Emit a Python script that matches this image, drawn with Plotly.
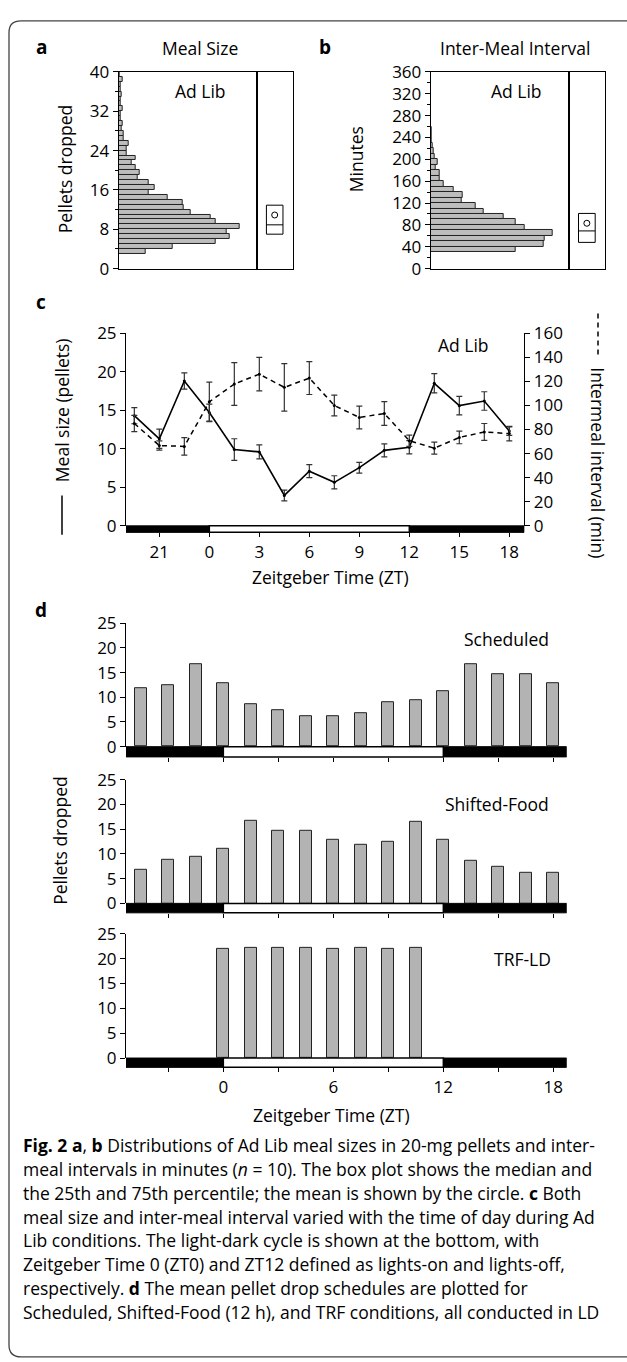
import plotly.graph_objects as go

W, H = 627, 1362
def fx(p): return p / W
def fy(p): return 1 - p / H

FONT = "Open Sans"
GRAY = "#bdbdbd"

# ---------------- data ----------------
# Panel a: meal size histogram (bin lower edges in pellets, relative counts)
meal_bins = list(range(3, 40))
meal_counts = [27, 54, 97, 111, 108, 121, 97, 92, 72, 65, 64, 49, 30, 36, 30, 19, 21, 17,
               13, 17, 8, 8, 10, 5, 5, 3, 4, 2, 2, 4, 2, 2, 3, 2, 2, 4, 1]
meal_box = dict(q1=7.0, median=8.9, q3=12.9, mean=10.9)

# Panel b: inter-meal interval histogram (bin lower edges in minutes)
imi_bins = list(range(30, 260, 10))
imi_counts = [85, 113, 114, 122, 94, 85, 73, 53, 45, 31, 32, 23, 13, 9, 9, 5, 7, 4, 3, 2, 1, 1, 1]
imi_box = dict(q1=48, median=69, q3=101, mean=83)

# Panel c: Ad Lib meal size and intermeal interval across the day (ZT hours, 21 = -3)
zt_c = [-4.5, -3, -1.5, 0, 1.5, 3, 4.5, 6, 7.5, 9, 10.5, 12, 13.5, 15, 16.5, 18]
meal_size = [14.3, 11.3, 18.8, 14.7, 9.9, 9.6, 3.95, 7.1, 5.65, 7.55, 9.8, 10.2, 18.5, 15.6, 16.2, 12.3]
meal_err = [1.05, 1.25, 1.05, 1.1, 1.4, 0.9, 0.7, 0.85, 0.85, 0.7, 0.85, 0.85, 1.25, 1.2, 1.2, 0.55]
interval = [85, 66.7, 66, 103, 117.8, 126, 115, 122.7, 100, 90, 93.3, 70.7, 64.5, 73.4, 78, 76.6]
interval_err = [6.7, 3.8, 7.2, 16.4, 17.7, 13.9, 19.7, 13.6, 8.6, 9.4, 9.8, 4.7, 5, 5.2, 7, 6]
c_tickvals = [-3, 0, 3, 6, 9, 12, 15, 18]
c_ticktext = ["21", "0", "3", "6", "9", "12", "15", "18"]

# Panel d: mean pellet drop schedules
zt_d = [-4.5, -3, -1.5, 0, 1.5, 3, 4.5, 6, 7.5, 9, 10.5, 12, 13.5, 15, 16.5, 18]
scheduled = [11.9, 12.4, 16.7, 12.9, 8.55, 7.35, 6.2, 6.2, 6.75, 8.95, 9.5, 11.2, 16.8, 14.7, 14.7, 12.8]
shifted = [6.75, 8.9, 9.4, 11.05, 16.8, 14.6, 14.6, 12.8, 11.95, 12.4, 16.6, 12.95, 8.6, 7.4, 6.25, 6.25]
zt_trf = [0, 1.5, 3, 4.5, 6, 7.5, 9, 10.5]
trf = [21.9, 22.1, 22.1, 22.1, 21.9, 22.2, 21.9, 22.2]
d_tickvals = [-3, 0, 3, 6, 9, 12, 15, 18]
d_ticktext = ["", "0", "", "6", "", "12", "", "18"]

# ---------------- layout geometry (pixels) ----------------
C_X0, C_X1, C_RANGE = 126, 524.3, [-5.0, 18.9]
D_X0, D_X1, D_RANGE = 126, 566.7, [-5.31, 18.73]

fig = go.Figure()

# --- panel a ---
fig.add_trace(go.Bar(x=meal_counts, y=[b + 0.5 for b in meal_bins], orientation="h", width=1,
                     marker=dict(color=GRAY, line=dict(color="#222", width=1)),
                     xaxis="x", yaxis="y", showlegend=False))
fig.add_trace(go.Box(x=[0], q1=[meal_box["q1"]], median=[meal_box["median"]], q3=[meal_box["q3"]],
                     lowerfence=[meal_box["q1"]], upperfence=[meal_box["q3"]], width=0.46,
                     fillcolor="white", line=dict(color="black", width=1), whiskerwidth=0,
                     xaxis="x2", yaxis="y2", showlegend=False, boxpoints=False))
fig.add_trace(go.Scatter(x=[0], y=[meal_box["mean"]], mode="markers",
                         marker=dict(symbol="circle-open", size=6, color="black", line=dict(width=1)),
                         xaxis="x2", yaxis="y2", showlegend=False))
# --- panel b ---
fig.add_trace(go.Bar(x=imi_counts, y=[b + 5 for b in imi_bins], orientation="h", width=10,
                     marker=dict(color=GRAY, line=dict(color="#222", width=1)),
                     xaxis="x3", yaxis="y3", showlegend=False))
fig.add_trace(go.Box(x=[0], q1=[imi_box["q1"]], median=[imi_box["median"]], q3=[imi_box["q3"]],
                     lowerfence=[imi_box["q1"]], upperfence=[imi_box["q3"]], width=0.46,
                     fillcolor="white", line=dict(color="black", width=1), whiskerwidth=0,
                     xaxis="x4", yaxis="y4", showlegend=False, boxpoints=False))
fig.add_trace(go.Scatter(x=[0], y=[imi_box["mean"]], mode="markers",
                         marker=dict(symbol="circle-open", size=6, color="black", line=dict(width=1)),
                         xaxis="x4", yaxis="y4", showlegend=False))
# --- panel c ---
fig.add_trace(go.Scatter(x=zt_c, y=interval, mode="lines+markers",
                         line=dict(color="black", width=1.5, dash="5px,4px"),
                         marker=dict(size=3, color="black"),
                         error_y=dict(type="data", array=interval_err, color="#333", thickness=1.2, width=3),
                         xaxis="x5", yaxis="y6", showlegend=False))
fig.add_trace(go.Scatter(x=zt_c, y=meal_size, mode="lines+markers",
                         line=dict(color="black", width=1.6),
                         marker=dict(size=3, color="black"),
                         error_y=dict(type="data", array=meal_err, color="#333", thickness=1.2, width=3),
                         xaxis="x5", yaxis="y5", showlegend=False))
# --- panel d ---
for vals, xs, ax in [(scheduled, zt_d, "7"), (shifted, zt_d, "8"), (trf, zt_trf, "9")]:
    fig.add_trace(go.Bar(x=xs, y=vals, width=0.64,
                         marker=dict(color="#b3b3b3", line=dict(color="#222", width=1)),
                         xaxis="x" + ax, yaxis="y" + ax, showlegend=False))

tickfont = dict(family=FONT, size=17, color="black")

def yax(domain_px, rng, **kw):
    d = dict(domain=[fy(domain_px[1]), fy(domain_px[0])], range=rng, showgrid=False, zeroline=False,
             showline=True, linecolor="black", linewidth=1, ticks="outside", ticklen=5,
             tickcolor="black", tickfont=tickfont)
    d.update(kw)
    return d

def xax(domain_px, rng, **kw):
    d = dict(domain=[fx(domain_px[0]), fx(domain_px[1])], range=rng, showgrid=False, zeroline=False,
             showline=True, linecolor="black", linewidth=1, ticks="", showticklabels=False,
             tickfont=tickfont)
    d.update(kw)
    return d

AB_Y = (61, 261)
layout = dict(
    width=W, height=H, margin=dict(l=0, r=0, t=0, b=0),
    paper_bgcolor="white", plot_bgcolor="white", font=dict(family=FONT, color="black"),
    # a
    xaxis=xax((118.7, 256.7), [0, 138], mirror=True, anchor="y"),
    yaxis=yax(AB_Y, [0, 40], tickvals=[0, 8, 16, 24, 32, 40], mirror=True, anchor="x",
              minor=dict(dtick=4, ticks="outside", ticklen=3, tickcolor="black")),
    xaxis2=xax((256.7, 292.7), [-0.5, 0.5], mirror=True, anchor="y2"),
    yaxis2=yax(AB_Y, [0, 40], ticks="", showticklabels=False, mirror=True, anchor="x2"),
    # b
    xaxis3=xax((430.7, 568.7), [0, 138], mirror=True, anchor="y3"),
    yaxis3=yax(AB_Y, [0, 360], tickvals=list(range(0, 361, 40)), mirror=True, anchor="x3",
               minor=dict(dtick=20, ticks="outside", ticklen=3, tickcolor="black")),
    xaxis4=xax((568.7, 605), [-0.5, 0.5], mirror=True, anchor="y4"),
    yaxis4=yax(AB_Y, [0, 360], ticks="", showticklabels=False, mirror=True, anchor="x4"),
    # c
    xaxis5=xax((C_X0, C_X1), C_RANGE, showline=False, anchor="free", position=fy(529.3),
               ticks="outside", ticklen=4, tickcolor="black", showticklabels=True,
               tickvals=c_tickvals, ticktext=c_ticktext),
    yaxis5=yax((326.7, 522.7), [0, 25], dtick=5, anchor="x5"),
    yaxis6=yax((326.7, 522.7), [0, 160], dtick=20, anchor="x5", overlaying="y5", side="right"),
    # d
    xaxis7=xax((D_X0, D_X1), D_RANGE, showline=False, anchor="free", position=fy(757.7),
               ticks="outside", ticklen=4, tickcolor="black", tickvals=d_tickvals),
    yaxis7=yax((621.7, 747.3), [0, 25], dtick=5, anchor="x7"),
    xaxis8=xax((D_X0, D_X1), D_RANGE, showline=False, anchor="free", position=fy(916.3),
               ticks="outside", ticklen=4, tickcolor="black", tickvals=d_tickvals),
    yaxis8=yax((781, 906.7), [0, 25], dtick=5, anchor="x8"),
    xaxis9=xax((D_X0, D_X1), D_RANGE, showline=False, anchor="free", position=fy(1073.5),
               ticks="outside", ticklen=4, tickcolor="black", tickvals=d_tickvals,
               ticktext=d_ticktext, showticklabels=True),
    yaxis9=yax((937.7, 1064), [0, 25], dtick=5, anchor="x9"),
    bargap=0,
)
fig.update_layout(**layout)

shapes = []
# light-dark bars
def ld_bar(xref, rng, top_px, bot_px):
    out = []
    out.append(dict(type="rect", xref=xref, yref="paper", x0=rng[0], x1=0, y0=fy(bot_px), y1=fy(top_px),
                    fillcolor="black", line=dict(color="black", width=1), layer="above"))
    out.append(dict(type="rect", xref=xref, yref="paper", x0=12, x1=rng[1], y0=fy(bot_px), y1=fy(top_px),
                    fillcolor="black", line=dict(color="black", width=1), layer="above"))
    out.append(dict(type="rect", xref=xref, yref="paper", x0=0, x1=12, y0=fy(bot_px), y1=fy(top_px),
                    fillcolor="white", line=dict(color="black", width=1.5), layer="above"))
    return out
shapes += ld_bar("x5", C_RANGE, 522.7, 529.3)
shapes += ld_bar("x7", D_RANGE, 747.3, 757.7)
shapes += ld_bar("x8", D_RANGE, 906.7, 916.3)
shapes += ld_bar("x9", D_RANGE, 1064, 1073.5)
# legend lines beside the axis titles of panel c
shapes.append(dict(type="line", xref="paper", yref="paper", x0=fx(62), x1=fx(62), y0=fy(491.7), y1=fy(531.7),
                   line=dict(color="black", width=1.5)))
shapes.append(dict(type="line", xref="paper", yref="paper", x0=fx(598), x1=fx(598), y0=fy(306.7), y1=fy(351.7),
                   line=dict(color="black", width=1.5, dash="5px,4px")))
# rounded border (right and bottom edges fall outside the picture)
x0, x1, y0, y1, r = fx(9), fx(660), fy(9), fy(1368), 12
rx, ry = r / W, r / H
path = (f"M {x0+rx},{y0} L {x1-rx},{y0} Q {x1},{y0} {x1},{y0-ry} L {x1},{y1+ry} Q {x1},{y1} {x1-rx},{y1} "
        f"L {x0+rx},{y1} Q {x0},{y1} {x0},{y1+ry} L {x0},{y0-ry} Q {x0},{y0} {x0+rx},{y0} Z")
shapes.append(dict(type="path", xref="paper", yref="paper", path=path, line=dict(color="#444", width=1.3)))
fig.update_layout(shapes=shapes)

ann = []
def text(x, y, s, size=17.5, bold=False, angle=0, xanchor="center"):
    ann.append(dict(x=fx(x), y=fy(y), xref="paper", yref="paper", text=f"<b>{s}</b>" if bold else s,
                    showarrow=False, textangle=angle, xanchor=xanchor, yanchor="middle",
                    font=dict(family=FONT, size=size, color="black")))

text(41.7, 36, "a", size=19, bold=True)
text(200, 37, "Meal Size")
text(200, 80, "Ad Lib")
text(65, 160, "Pellets dropped", angle=-90)
text(325, 36, "b", size=19, bold=True)
text(515, 37, "Inter-Meal Interval")
text(516.7, 80, "Ad Lib")
text(356.7, 150, "Minutes", angle=-90)

text(41, 295, "c", size=19, bold=True)
text(463.3, 338.3, "Ad Lib")
text(62, 405, "Meal size (pellets)", angle=-90)
text(598, 458, "Intermeal interval (min)", angle=90)
text(330, 575, "Zeitgeber Time (ZT)")

text(41, 608, "d", size=19, bold=True)
text(506.6, 638, "Scheduled")
text(497, 805.7, "Shifted-Food")
text(522, 963, "TRF-LD")
text(60, 843, "Pellets dropped", angle=-90)
text(332, 1121.7, "Zeitgeber Time (ZT)")

caption = [
    "<b>Fig. 2 a</b>, <b>b</b> Distributions of Ad Lib meal sizes in 20-mg pellets and inter-",
    "meal intervals in minutes (<i>n</i> = 10). The box plot shows the median and",
    "the 25th and 75th percentile; the mean is shown by the circle. <b>c</b> Both",
    "meal size and inter-meal interval varied with the time of day during Ad",
    "Lib conditions. The light-dark cycle is shown at the bottom, with",
    "Zeitgeber Time 0 (ZT0) and ZT12 defined as lights-on and lights-off,",
    "respectively. <b>d</b> The mean pellet drop schedules are plotted for",
    "Scheduled, Shifted-Food (12 h), and TRF conditions, all conducted in LD",
]
for i, line in enumerate(caption):
    text(21, 1152 + 24.4 * i, line, size=17.5, xanchor="left")

fig.update_layout(annotations=ann)
fig.write_html("out.html", config={"displayModeBar": False},
               post_script="document.body.style.margin='0';document.body.style.overflow='hidden';")
